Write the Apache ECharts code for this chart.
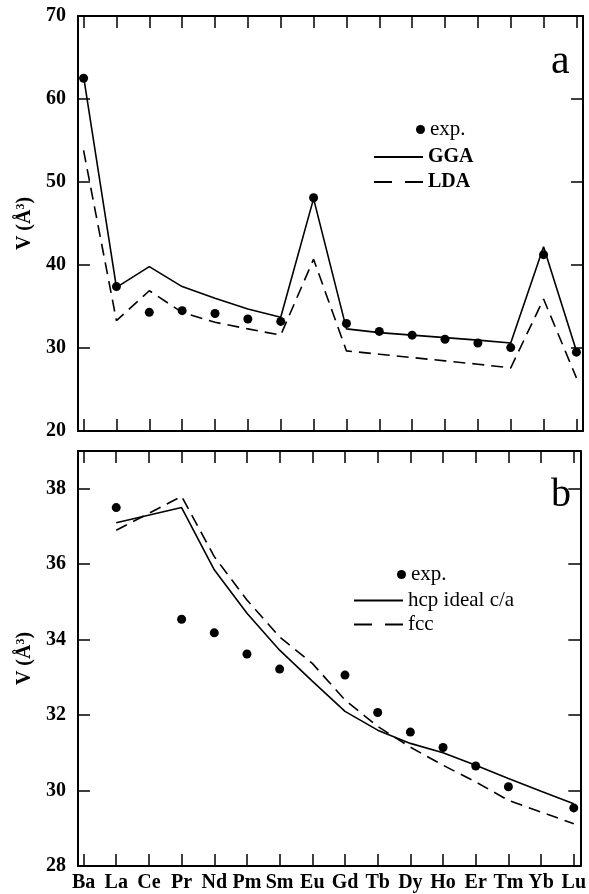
<!DOCTYPE html>
<html>
<head>
<meta charset="utf-8">
<script src="https://cdn.jsdelivr.net/npm/echarts@6/dist/echarts.min.js"></script>
<style>
html,body{margin:0;padding:0;background:#fff;}
#main{width:589px;height:894px;}
</style>
</head>
<body>
<div id="main"></div>
<script>
// 元素
var elements=["Ba","La","Ce","Pr","Nd","Pm","Sm","Eu","Gd","Tb","Dy","Ho","Er","Tm","Yb","Lu"];

// a 面板
var expA=[62.5,37.4,34.3,34.5,34.15,33.5,33.2,48.1,32.95,32.0,31.55,31.05,30.6,30.05,41.25,29.5];
var ggaA=[62.7,37.3,39.8,37.4,36.0,34.7,33.7,48.0,32.3,31.85,31.55,31.25,30.95,30.6,42.2,29.65];
var ldaA=[53.8,33.3,36.9,34.3,33.1,32.3,31.55,40.7,29.65,29.25,28.85,28.45,28.05,27.6,35.9,26.4];

// b 面板
var expB=[null,37.5,null,34.54,34.18,33.62,33.22,null,33.06,32.07,31.55,31.14,30.65,30.1,null,29.54];
var hcpB=[null,37.1,null,37.5,35.85,34.7,33.72,32.9,32.1,31.6,31.25,31.0,30.67,30.32,29.98,29.65];
var fccB=[null,36.9,null,37.8,36.2,35.05,34.07,33.37,32.4,31.7,31.15,30.67,30.23,29.74,29.43,29.12];

var ticksX=[0,1,2,3,4,5,6,7,8,9,10,11,12,13,14,15];

var font="Liberation Serif";

function toPairs(arr){
    var out=[];
    for(var i=0;i<arr.length;i++){
        if(arr[i]!==null){
            out.push([i,arr[i]]);
        }
    };
    return out;
};

var myChart=echarts.init(document.getElementById("main"));

function xAxisOf(gridIndex,pos,showLabel){
    return {
        type:'value',
        gridIndex:gridIndex,
        position:pos,
        min:-0.17,
        max:15.2,
        axisLine:{show:true,onZero:false,lineStyle:{color:'#000',width:2}},
        axisTick:{show:true,inside:true,length:12,customValues:ticksX,lineStyle:{color:'#000',width:1.5}},
        axisLabel:{
            show:showLabel,
            customValues:ticksX,
            margin:7,
            color:'#000',
            fontFamily:font,
            fontSize:20,
            fontWeight:'bold',
            formatter:function(v){ return elements[Math.round(v)]; }
        },
        splitLine:{show:false}
    };
};

function yAxisOf(gridIndex,pos,min,max,interval,showLabel){
    var ax={
        type:'value',
        gridIndex:gridIndex,
        position:pos,
        min:min,
        max:max,
        interval:interval,
        axisLine:{show:true,onZero:false,lineStyle:{color:'#000',width:2}},
        axisTick:{show:true,inside:true,length:12,lineStyle:{color:'#000',width:1.5}},
        axisLabel:{
            show:showLabel,
            margin:12,
            color:'#000',
            fontFamily:font,
            fontSize:20,
            fontWeight:'bold',
            showMaxLabel:(max%interval===0)
        },
        splitLine:{show:false}
    };
    if(showLabel){
        ax.name='V (Å{s|3})';
        ax.nameLocation='middle';
        ax.nameGap=40;
        ax.nameTextStyle={
            color:'#000',
            fontFamily:font,
            fontSize:20,
            fontWeight:'bold',
            rich:{
                s:{fontFamily:font,fontSize:12,fontWeight:'bold',color:'#000',verticalAlign:'top',padding:[0,0,9,0]}
            }
        };
    }
    return ax;
};

var lineBase={
    type:'line',
    symbol:'none',
    smooth:false,
    connectNulls:false,
    silent:true
};

function lineSeries(name,arr,xi,yi,dashed){
    var s=echarts.util.clone(lineBase);
    s.name=name;
    s.xAxisIndex=xi;
    s.yAxisIndex=yi;
    s.data=toPairs(arr);
    s.lineStyle={color:'#000',width:1.6,type:dashed?[12,7]:'solid'};
    s.itemStyle={color:'#000'};
    return s;
};

function dotSeries(name,arr,xi,yi){
    return {
        name:name,
        type:'scatter',
        xAxisIndex:xi,
        yAxisIndex:yi,
        symbol:'circle',
        symbolSize:9,
        itemStyle:{color:'#000',opacity:1},
        data:toPairs(arr),
        silent:true,
        z:5
    };
};

var legendText={color:'#000',fontFamily:font,fontSize:21};
var hideSym={color:'rgba(0,0,0,0)',borderWidth:0,opacity:0};

var option={
    backgroundColor:'#fff',
    animation:false,
    title:[
        {text:'a',left:546,top:36,textStyle:{fontFamily:font,fontSize:42,fontWeight:'normal',color:'#000'}},
        {text:'b',left:546,top:470,textStyle:{fontFamily:font,fontSize:40,fontWeight:'normal',color:'#000'}}
    ],
    grid:[
        {left:78,top:16,width:505,height:415},
        {left:78,top:451,width:505,height:415}
    ],
    xAxis:[
        xAxisOf(0,'bottom',false),
        xAxisOf(0,'top',false),
        xAxisOf(1,'bottom',true),
        xAxisOf(1,'top',false)
    ],
    yAxis:[
        yAxisOf(0,'left',20,70,10,true),
        yAxisOf(0,'right',20,70,10,false),
        yAxisOf(1,'left',28,39,2,true),
        yAxisOf(1,'right',28,39,2,false)
    ],
    legend:[
        {
            data:['exp.'],
            left:411,top:114,
            itemWidth:9,itemHeight:9,itemGap:6,
            textStyle:legendText,
            selectedMode:false
        },
        {
            data:[
                {name:'GGA',textStyle:{fontWeight:'bold',fontSize:20}},
                {name:'LDA',textStyle:{fontWeight:'bold',fontSize:20},lineStyle:{type:[18,13]}}
            ],
            orient:'vertical',
            left:368,top:142,
            itemWidth:49,itemHeight:12,itemGap:5,
            itemStyle:hideSym,
            textStyle:legendText,
            selectedMode:false
        },
        {
            data:['exp. '],
            left:392,top:559,
            itemWidth:9,itemHeight:9,itemGap:6,
            textStyle:legendText,
            selectedMode:false,
            formatter:function(n){ return 'exp.'; }
        },
        {
            data:[{name:'hcp ideal c/a'},{name:'fcc',lineStyle:{type:[18,13]}}],
            orient:'vertical',
            left:348,top:585,
            itemWidth:49,itemHeight:12,itemGap:3,
            itemStyle:hideSym,
            textStyle:legendText,
            selectedMode:false
        }
    ],
    series:[
        lineSeries('GGA',ggaA,0,0,false),
        lineSeries('LDA',ldaA,0,0,true),
        dotSeries('exp.',expA,0,0),
        lineSeries('hcp ideal c/a',hcpB,2,2,false),
        lineSeries('fcc',fccB,2,2,true),
        dotSeries('exp. ',expB,2,2)
    ]
};

myChart.setOption(option);
</script>
</body>
</html>
